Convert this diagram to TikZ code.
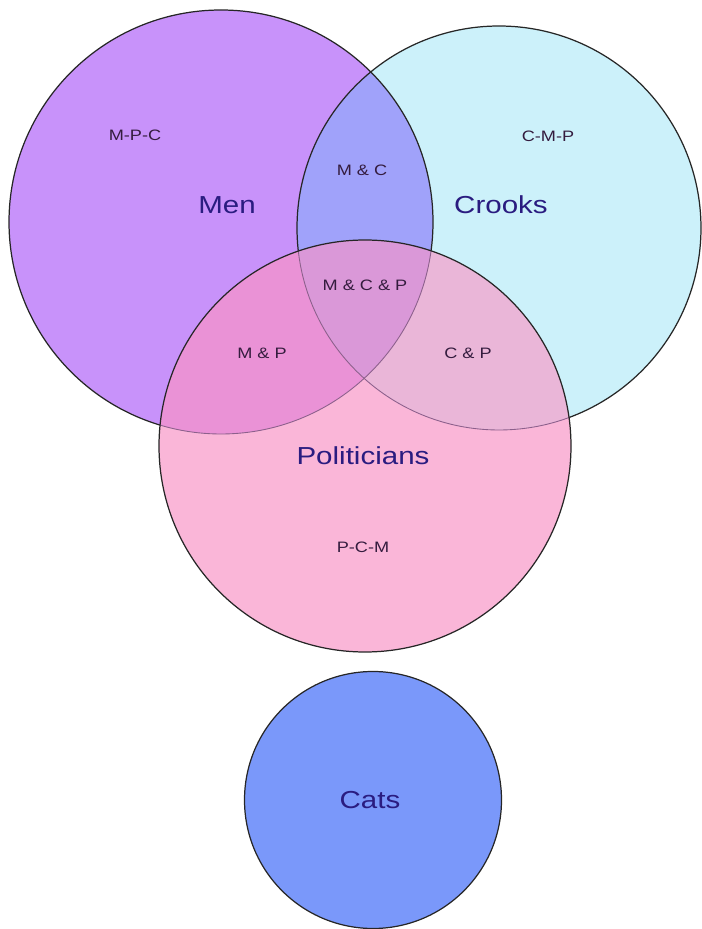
\documentclass[tikz,border=0pt]{standalone}
\usepackage{fontspec}
\setmainfont{Liberation Sans}
\newfontfamily\widesans[FakeStretch=1.2]{Liberation Sans}
\usepackage{xcolor}
\usetikzlibrary{positioning}

\definecolor{menfill}{RGB}{200,146,250}
\definecolor{crookfill}{RGB}{204,241,250}
\definecolor{mcfill}{RGB}{160,162,250}
\definecolor{polfill}{RGB}{250,182,216}
\definecolor{mpfill}{RGB}{234,146,214}
\definecolor{cpfill}{RGB}{234,182,216}
\definecolor{mcpfill}{RGB}{218,152,216}
\definecolor{catfill}{RGB}{122,152,250}
\definecolor{setname}{RGB}{42,28,128}
\definecolor{regionname}{RGB}{52,28,62}
\definecolor{innerline}{RGB}{140,96,140}

\begin{document}
\begin{tikzpicture}[
    rim/.style={draw=black!85, line width=0.7pt},
    innerrim/.style={draw=innerline, line width=0.5pt},
    big/.style={font=\widesans\fontsize{14}{16}\selectfont, text=setname},
    small/.style={font=\widesans\fontsize{8.6}{10}\selectfont, text=regionname},
  ]
    \useasboundingbox (0,0) rectangle (14.02,18.58);

    \coordinate (men) at (4.42,14.14);
    \coordinate (crk) at (9.98,14.02);
    \coordinate (pol) at (7.30,9.66);
    \coordinate (cat) at (7.46,2.58);
    \def\rmen{4.24}
    \def\rcrk{4.04}
    \def\rpol{4.12}
    \def\rcat{2.57}

    % men and crooks
    \fill[menfill] (men) circle (\rmen);
    \fill[crookfill] (crk) circle (\rcrk);
    \begin{scope}
      \clip (men) circle (\rmen);
      \fill[mcfill] (crk) circle (\rcrk);
    \end{scope}
    \draw[rim] (men) circle (\rmen);
    \draw[rim] (crk) circle (\rcrk);

    % politicians on top
    \fill[polfill] (pol) circle (\rpol);
    \begin{scope}
      \clip (pol) circle (\rpol);
      \fill[mpfill] (men) circle (\rmen);
      \fill[cpfill] (crk) circle (\rcrk);
      \begin{scope}
        \clip (men) circle (\rmen);
        \fill[mcpfill] (crk) circle (\rcrk);
      \end{scope}
      \draw[innerrim] (men) circle (\rmen);
      \draw[innerrim] (crk) circle (\rcrk);
    \end{scope}
    \draw[rim] (pol) circle (\rpol);

    % cats, apart
    \filldraw[rim, fill=catfill] (cat) circle (\rcat);

    \node[big] (lmen) at (4.54,14.48) {Men};
    \node[big] (lcrk) at (10.02,14.48) {Crooks};
    \node[big] (lpol) at (7.26,9.46) {Politicians};
    \node[big] (lcat) at (7.40,2.58) {Cats};

    \node[small] (mpc) at (2.70,15.88) {M-P-C};
    \node[small] (cmp) at (10.96,15.86) {C-M-P};
    \node[small] (pcm) at (7.26,7.64) {P-C-M};
    \node[small] (mc)  at (7.24,15.18) {M \& C};
    \node[small] (mp)  at (5.24,11.52) {M \& P};
    \node[small] (cp)  at (9.36,11.52) {C \& P};
    \node[small] (mcp) at (7.30,12.88) {M \& C \& P};
  \end{tikzpicture}
\end{document}
